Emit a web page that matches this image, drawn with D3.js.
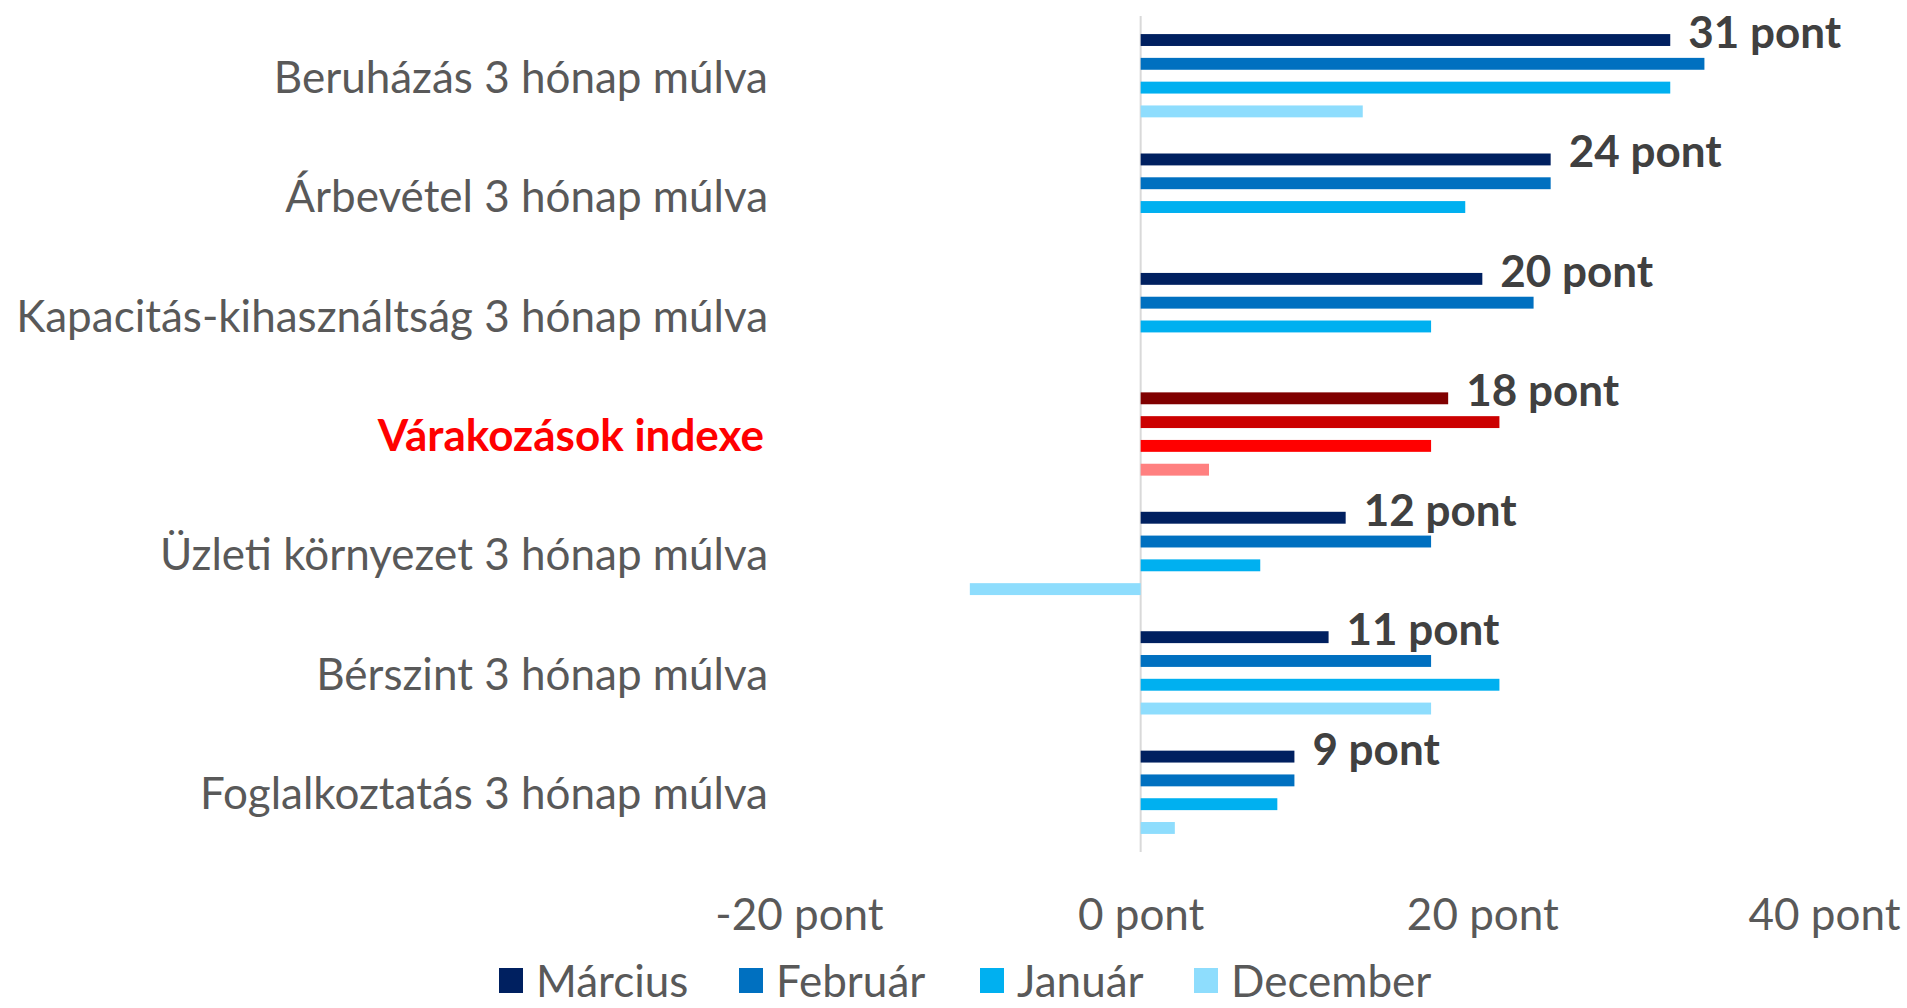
<!DOCTYPE html>
<html>
<head>
<meta charset="utf-8">
<script src="https://cdn.jsdelivr.net/npm/d3@7"></script>
<style>
  html, body { margin: 0; padding: 0; background: #fff; }
  svg { display: block; }
  text { font-family: Lato, "Noto Sans", sans-serif; }
</style>
</head>
<body>
<svg id="chart" width="1907" height="1008"></svg>
<script>
const categories = [
  "Beruházás 3 hónap múlva",
  "Árbevétel 3 hónap múlva",
  "Kapacitás-kihasználtság 3 hónap múlva",
  "Várakozások indexe",
  "Üzleti környezet 3 hónap múlva",
  "Bérszint 3 hónap múlva",
  "Foglalkoztatás 3 hónap múlva"
];
const seriesNames = ["Március", "Február", "Január", "December"];
const marcius  = [31, 24, 20, 18, 12, 11, 9];
const februar  = [33, 24, 23, 21, 17, 17, 9];
const januar   = [31, 19, 17, 17, 7, 21, 8];
const december = [13, null, null, 4, -10, 17, 2];
const tickValues = [-20, 0, 20, 40];
const highlightCategory = "Várakozások indexe";

const blueColors = ["#002060", "#0070C0", "#00B0F0", "#8EDDFD"];
const redColors  = ["#800000", "#CC0000", "#FF0000", "#FF8080"];

const seriesValues = [marcius, februar, januar, december];

const svg = d3.select("#chart");
const FS = 44;

const x = d3.scaleLinear().domain([-20, 40]).range([799, 1824]);
const y0 = d3.scaleBand().domain(categories).range([16, 852]);
const y1 = d3.scaleBand().domain(seriesNames).range([0, y0.bandwidth()])
  .paddingInner(0.5).paddingOuter(0.76);

// zero line
svg.append("line")
  .attr("x1", x(0)).attr("x2", x(0))
  .attr("y1", 16).attr("y2", 852)
  .attr("stroke", "#D9D9D9").attr("stroke-width", 2);

// bars
categories.forEach((cat, ci) => {
  const g = svg.append("g").attr("transform", `translate(0,${y0(cat)})`);
  seriesNames.forEach((s, si) => {
    const v = seriesValues[si][ci];
    if (v === null || v === undefined) return;
    const col = cat === highlightCategory ? redColors[si] : blueColors[si];
    g.append("rect")
      .attr("x", x(Math.min(0, v)))
      .attr("width", Math.abs(x(v) - x(0)))
      .attr("y", y1(s))
      .attr("height", y1.bandwidth())
      .attr("fill", col);
  });
  // data label
  const v = marcius[ci];
  g.append("text")
    .attr("x", x(Math.max(v, 0)) + 18)
    .attr("y", y1("Március") + y1.bandwidth() / 2 - 9)
    .attr("dominant-baseline", "central")
    .attr("font-size", FS)
    .attr("font-weight", "bold")
    .attr("fill", "#404040")
    .text(`${v} pont`);
});

// category labels
svg.append("g").selectAll("text").data(categories).join("text")
  .attr("x", d => d === highlightCategory ? 764 : 768)
  .attr("y", d => y0(d) + y0.bandwidth() / 2)
  .attr("text-anchor", "end")
  .attr("dominant-baseline", "central")
  .attr("font-size", FS)
  .attr("font-weight", d => d === highlightCategory ? "bold" : "normal")
  .attr("fill", d => d === highlightCategory ? "#FF0000" : "#595959")
  .text(d => d);

// x axis
const axis = d3.axisBottom(x).tickValues(tickValues).tickSize(0)
  .tickFormat(d => `${d} pont`);
const ax = svg.append("g").attr("transform", "translate(0,915)").call(axis);
ax.select(".domain").remove();
ax.selectAll("text")
  .attr("y", 0).attr("dy", "0.35em")
  .attr("font-size", FS)
  .attr("font-family", "Lato, 'Noto Sans', sans-serif")
  .attr("fill", "#595959");

// legend
const legendX = [499, 739, 980, 1194];
const lg = svg.append("g").attr("transform", "translate(0,980)");
seriesNames.forEach((s, i) => {
  lg.append("rect")
    .attr("x", legendX[i]).attr("y", -12)
    .attr("width", 24).attr("height", 25)
    .attr("fill", blueColors[i]);
  lg.append("text")
    .attr("x", legendX[i] + 37).attr("y", 0)
    .attr("dominant-baseline", "central")
    .attr("font-size", FS)
    .attr("fill", "#595959")
    .text(s);
});
</script>
</body>
</html>
